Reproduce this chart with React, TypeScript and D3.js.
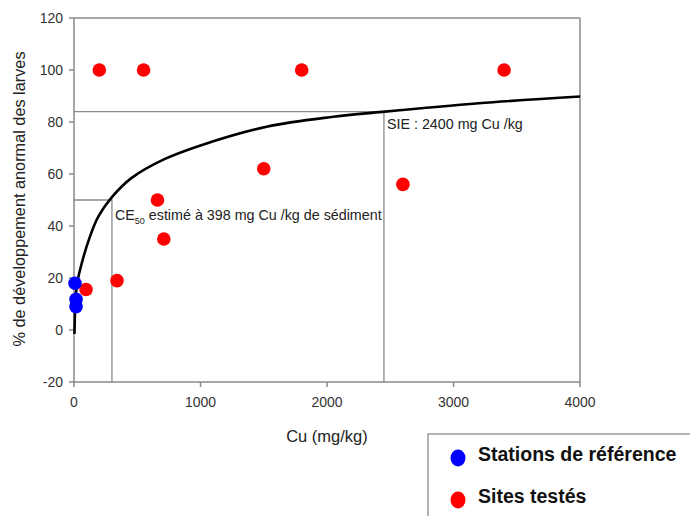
import React from "react";
import * as d3 from "d3";

// values
const refX = [8, 16, 16];
const refY = [18, 11.8, 9];

const siteX = [200, 550, 1800, 3400, 660, 710, 340, 95, 1500, 2600];
const siteY = [100, 100, 100, 100, 50, 35, 19, 15.6, 62, 56];

// fitted dose-response curve
const curveX = [4, 21, 61, 126, 192, 298, 456, 719, 1000, 1523, 2050, 2458, 3200, 4000];
const curveY = [-1.5, 16.7, 25.6, 35.9, 43.6, 51, 58.5, 65.8, 71, 78.2, 82, 84, 87.2, 89.8];

const ce50 = { x: 300, y: 50 };
const sie = { x: 2450, y: 84 };

const xTicks = [0, 1000, 2000, 3000, 4000];
const yTicks = [-20, 0, 20, 40, 60, 80, 100, 120];

const FONT = "'Liberation Sans', Arial, sans-serif";
const AXIS = "#8a8a8a";

export default function App() {
  const left = 74;
  const right = 580;
  const top = 18;
  const bottom = 382;

  const x = d3.scaleLinear().domain([0, 4000]).range([left, right]);
  const y = d3.scaleLinear().domain([-20, 120]).range([bottom, top]);

  const line = d3
    .line<number>()
    .x((d) => x(curveX[d]))
    .y((d) => y(curveY[d]))
    .curve(d3.curveCatmullRom.alpha(0.5));
  const curvePath = line(d3.range(curveX.length)) || "";

  return (
    <svg
      width={690}
      height={516}
      style={{ position: "absolute", left: 0, top: 0, background: "#fff" }}
      fontFamily={FONT}
    >
      <rect x={0} y={0} width={690} height={516} fill="#fff" />

      {/* frame */}
      <line x1={left} x2={right} y1={top} y2={top} stroke={AXIS} strokeWidth={1.5} />
      <line x1={right} x2={right} y1={top} y2={bottom} stroke={AXIS} strokeWidth={1.5} />
      <line x1={left} x2={left} y1={top} y2={bottom} stroke={AXIS} strokeWidth={1.5} />
      <line x1={left} x2={right} y1={bottom} y2={bottom} stroke={AXIS} strokeWidth={1.5} />

      {/* y ticks */}
      {yTicks.map((t) => (
        <g key={"y" + t}>
          <line x1={left - 5} x2={left} y1={y(t)} y2={y(t)} stroke={AXIS} strokeWidth={1.5} />
          <text
            x={left - 11}
            y={y(t)}
            dy="0.35em"
            textAnchor="end"
            fontSize={14}
            fill="#333"
          >
            {t}
          </text>
        </g>
      ))}

      {/* x ticks */}
      {xTicks.map((t) => (
        <g key={"x" + t}>
          <line x1={x(t)} x2={x(t)} y1={bottom} y2={bottom + 5} stroke={AXIS} strokeWidth={1.5} />
          <text x={x(t)} y={bottom + 25} textAnchor="middle" fontSize={14} fill="#333">
            {t}
          </text>
        </g>
      ))}

      {/* axis titles */}
      <text
        x={(left + right) / 2}
        y={442}
        textAnchor="middle"
        fontSize={16.5}
        fill="#222"
      >
        Cu (mg/kg)
      </text>
      <text
        transform={`translate(25, 199) rotate(-90)`}
        textAnchor="middle"
        fontSize={16.3}
        fill="#222"
      >
        % de développement anormal des larves
      </text>

      {/* reference lines */}
      <polyline
        points={`${x(0)},${y(ce50.y)} ${x(ce50.x)},${y(ce50.y)} ${x(ce50.x)},${bottom}`}
        fill="none"
        stroke={AXIS}
        strokeWidth={1.3}
      />
      <polyline
        points={`${x(0)},${y(sie.y)} ${x(sie.x)},${y(sie.y)} ${x(sie.x)},${bottom}`}
        fill="none"
        stroke={AXIS}
        strokeWidth={1.3}
      />

      {/* annotations */}
      <text x={x(ce50.x) + 3} y={y(ce50.y) + 20} fontSize={14.3} fill="#222">
        CE<tspan fontSize={9} dy={4}>50</tspan>
        <tspan dy={-4}> estimé à 398 mg Cu /kg de sédiment</tspan>
      </text>
      <text x={x(sie.x) + 3} y={y(sie.y) + 17} fontSize={14.3} fill="#222">
        SIE : 2400 mg Cu /kg
      </text>

      {/* curve */}
      <path d={curvePath} fill="none" stroke="#000" strokeWidth={2.6} />

      {/* points */}
      {siteX.map((v, i) => (
        <circle key={"s" + i} cx={x(v)} cy={y(siteY[i])} r={6.8} fill="#ff0000" />
      ))}
      {refX.map((v, i) => (
        <circle key={"r" + i} cx={x(v)} cy={y(refY[i])} r={6.8} fill="#0000ff" />
      ))}

      {/* legend */}
      <rect x={428} y={434} width={300} height={120} fill="#fff" stroke={AXIS} strokeWidth={1.3} />
      <ellipse cx={458} cy={458} rx={7.5} ry={8.5} fill="#0000ff" />
      <text x={478} y={461} fontSize={19.5} fontWeight="bold" fill="#111">
        Stations de référence
      </text>
      <ellipse cx={458} cy={500} rx={7.5} ry={8.5} fill="#ff0000" />
      <text x={478} y={503} fontSize={19.5} fontWeight="bold" fill="#111">
        Sites testés
      </text>
    </svg>
  );
}
